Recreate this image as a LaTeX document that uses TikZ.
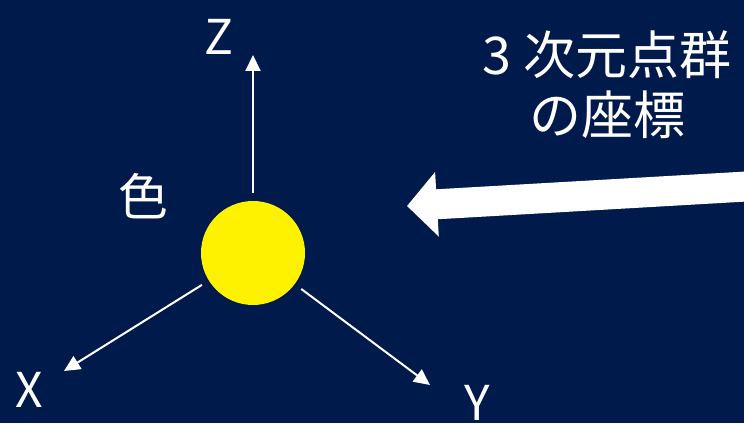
\documentclass[tikz,border=0pt]{standalone}
\usepackage{fontspec}
\setmainfont{Noto Sans CJK JP}
\usetikzlibrary{arrows.meta}
\definecolor{navy}{RGB}{0,26,76}
\tikzset{
  axis/.style={draw=white, line width=2pt, -{Triangle[length=16pt,width=15pt]}, shorten <=8pt},
  axlabel/.style={text=white, font=\fontsize{48}{48}\selectfont, inner sep=0pt},
  jlabel/.style={text=white, font=\fontsize{52}{60}\selectfont, inner sep=0pt, align=center},
}

\begin{document}
\begin{tikzpicture}[x=1pt, y=1pt]
    % Nền
    \fill[navy] (0,0) rectangle (744,423);
    \useasboundingbox (0,0) rectangle (744,423);
    \clip (0,0) rectangle (744,423);

    % Điểm màu
    \node[circle, fill=yellow, minimum size=104pt, inner sep=0pt] (ball) at (253,170) {};
    \node[jlabel, font=\fontsize{50}{50}\selectfont] (color) at (143,227) {色};

    % Các trục
    \coordinate (ztip) at (253,368);
    \coordinate (xtip) at (64,52);
    \coordinate (ytip) at (430,38);
    \draw[axis] (ball) -- (ztip);
    \draw[axis] (ball) -- (xtip);
    \draw[axis] (ball) -- (ytip);
    \node[axlabel] (zlab) at (219,386) {Z};
    \node[axlabel] (xlab) at (29,33) {X};
    \node[axlabel] (ylab) at (477,20) {Y};

    % Tọa độ điểm
    \node[jlabel] (coords) at (607,338) {3 次元点群\\の座標};
    \coordinate (src) at (752,236.8);
    \coordinate (dst) at (407,217);
    \draw[white, line width=30pt, -{Triangle[length=30pt,width=63pt]}] (src) -- (dst);
\end{tikzpicture}
\end{document}
